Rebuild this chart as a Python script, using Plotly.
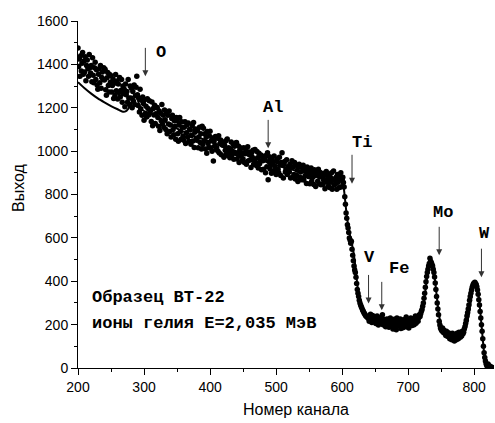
import plotly.graph_objects as go

# ---- measured spectrum: channels 200..599 (one value per channel) ----
counts_200_599 = [
    1475, 1390, 1425, 1345, 1440, 1370, 1405, 1455, 1355, 1415,
    1365, 1435, 1325, 1395, 1420, 1380, 1345, 1445, 1385, 1360,
    1395, 1320, 1430, 1350, 1315, 1385, 1410, 1330, 1375, 1305,
    1285, 1355, 1380, 1315, 1395, 1290, 1340, 1365, 1330, 1385,
    1328, 1378, 1283, 1258, 1338, 1363, 1303, 1273, 1353, 1318,
    1348, 1273, 1303, 1333, 1243, 1313, 1258, 1353, 1278, 1323,
    1240, 1310, 1270, 1340, 1250, 1280, 1330, 1225, 1300, 1265,
    1285, 1205, 1310, 1260, 1275, 1225, 1330, 1245, 1215, 1300,
    1245, 1290, 1200, 1275, 1230, 1305, 1215, 1255, 1295, 1345,
    1260, 1210, 1245, 1180, 1285, 1195, 1235, 1165, 1250, 1220,
    1142, 1237, 1172, 1207, 1157, 1242, 1197, 1167, 1232, 1182,
    1187, 1137, 1227, 1117, 1197, 1167, 1212, 1127, 1172, 1202,
    1200, 1155, 1115, 1185, 1095, 1175, 1140, 1215, 1125, 1165,
    1110, 1190, 1145, 1100, 1175, 1080, 1165, 1125, 1185, 1090,
    1120, 1065, 1150, 1165, 1100, 1075, 1140, 1115, 1055, 1155,
    1140, 1080, 1045, 1120, 1155, 1090, 1055, 1135, 1110, 1070,
    1050, 1110, 1135, 1035, 1085, 1120, 1065, 1130, 1045, 1100,
    1097, 1032, 1072, 1117, 1047, 1132, 1017, 1087, 1102, 1057,
    1050, 1095, 1015, 1065, 1110, 1040, 1080, 1010, 1115, 1030,
    1105, 1045, 1080, 1010, 1065, 990, 1090, 1035, 1015, 1070,
    1092, 1016, 1048, 1000, 1060, 955, 1044, 1024, 1068, 1008,
    1015, 1059, 999, 1071, 991, 1035, 1051, 983, 1043, 1027,
    1036, 972, 1028, 1004, 1048, 988, 1056, 980, 1016, 996,
    970, 1010, 1042, 982, 998, 1030, 962, 1022, 990, 1038,
    1040, 964, 984, 1024, 948, 1004, 1016, 976, 992, 956,
    964, 1016, 948, 988, 1008, 940, 996, 1020, 956, 984,
    996, 960, 924, 992, 972, 1004, 940, 956, 1008, 948,
    934, 998, 970, 922, 990, 942, 954, 982, 914, 974,
    956, 916, 976, 964, 900, 980, 928, 992, 868, 952,
    974, 918, 938, 898, 962, 950, 906, 978, 930, 914,
    892, 952, 964, 916, 900, 972, 936, 888, 948, 993,
    936, 876, 940, 952, 904, 916, 960, 892, 928, 908,
    904, 940, 876, 924, 956, 880, 928, 892, 948, 872,
    936, 888, 912, 860, 928, 940, 880, 904, 868, 924,
    875, 935, 867, 911, 887, 923, 851, 927, 899, 883,
    910, 850, 898, 922, 862, 878, 906, 846, 914, 886,
    837, 893, 909, 861, 917, 849, 881, 901, 845, 889,
    882, 846, 866, 898, 826, 890, 906, 858, 870, 838,
    892, 832, 880, 856, 900, 824, 872, 908, 844, 868,
    848, 880, 824, 892, 856, 884, 832, 872, 900, 836,
]
channels_200_599 = list(range(200, 600))

# ---- measured spectrum: channels 600..828 ----
channels_600_828 = list(range(600, 829))
counts_600_828 = [
    870, 880, 855, 835, 790, 755, 715, 690, 660, 645,
    625, 600, 590, 575, 585, 548, 520, 495, 470, 452,
    440, 418, 390, 362, 345, 330, 312, 300, 290, 282,
    276, 268, 262, 255, 250, 244, 240, 237, 235, 230,
    228, 215, 236, 248, 222, 210, 242, 225, 215, 238,
    232, 205, 210, 240, 226, 198, 205, 230, 232, 212,
    220, 245, 200, 225, 216, 195, 190, 220, 226, 200,
    210, 188, 196, 230, 222, 205, 200, 180, 185, 225,
    216, 195, 176, 230, 210, 200, 195, 215, 226, 182,
    200, 215, 186, 222, 216, 190, 205, 235, 190, 210,
    222, 185, 200, 218, 230, 205, 196, 225, 216, 200,
    225, 240, 206, 220, 238, 215, 232, 245, 238, 250,
    262, 270, 285, 300, 322, 345, 372, 398, 422, 440,
    455, 470, 482, 506, 492, 486, 478, 470, 455, 440,
    420, 392, 362, 330, 300, 272, 245, 215, 198, 185,
    178, 172, 185, 165, 175, 160, 168, 150, 170, 155,
    145, 162, 150, 135, 158, 145, 130, 160, 148, 140,
    125, 155, 142, 130, 160, 145, 135, 165, 150, 142,
    160, 148, 170, 158, 165, 180, 190, 205, 220, 240,
    255, 272, 290, 312, 330, 345, 360, 372, 382, 388,
    392, 395, 390, 385, 375, 360, 340, 315, 290, 260,
    230, 200, 170, 135, 100, 70, 48, 32, 20, 12,
    8, 18, 5, 10, 2, 6, 0, 3, 0,
]

# ---- simulated spectrum (solid curve) ----
fit_channels = [200, 210, 220, 230, 240, 250, 260, 268, 272, 276, 280, 284, 287,
                290, 293, 296, 300, 320, 340, 360, 380, 400, 420, 440, 460, 480,
                500, 520, 540, 560, 580, 590, 596, 600, 602, 604, 606, 609, 612,
                617, 620, 624, 628, 632, 636, 640, 650, 670, 690, 705, 712, 716,
                720, 724, 728, 731, 734, 737, 740, 743, 746, 749, 752, 756, 762,
                770, 778, 784, 788, 792, 795, 798, 801, 803, 805, 808, 811, 814,
                816, 818, 820]
fit_counts = [1318, 1290, 1265, 1243, 1225, 1208, 1193, 1182, 1183, 1195, 1215, 1240, 1252,
              1240, 1210, 1195, 1185, 1160, 1120, 1090, 1065, 1045, 1020, 1000, 978, 955,
              935, 918, 902, 887, 872, 868, 868, 860, 840, 790, 730, 660, 610,
              540, 470, 360, 300, 265, 245, 232, 222, 215, 210, 210, 215, 225,
              250, 310, 400, 460, 482, 470, 420, 340, 260, 210, 185, 168, 155,
              148, 152, 165, 190, 250, 310, 365, 392, 392, 370, 300, 200, 100,
              45, 10, 0]

# ---- element markers ----
elem_labels = ["O", "Al", "Ti", "V", "Fe", "Mo", "W"]
elem_channels = [302, 488, 615, 640, 660, 747, 811]
elem_tail = [1483, 1151, 990, 436, 404, 658, 557]
elem_tip = [1345, 1013, 850, 297, 266, 520, 419]
elem_label_x = [326, 495, 630, 642, 686, 753, 815]
elem_label_y = [1456, 1202, 1040, 510, 458, 718, 620]

sample_lines = ["Образец ВТ-22", "ионы гелия E=2,035 МэВ"]
sample_y = [326, 205]

W, H = 495, 423
L, R, T, B = 78, 1, 21, 55
pw, ph = W - L - R, H - T - B

fig = go.Figure()
fig.add_trace(go.Scatter(
    x=channels_200_599 + channels_600_828,
    y=counts_200_599 + counts_600_828,
    mode="markers",
    marker=dict(color="black", size=5.5),
    showlegend=False,
))
fig.add_trace(go.Scatter(
    x=fit_channels, y=fit_counts, mode="lines",
    line=dict(color="black", width=2, shape="spline", smoothing=0.6),
    showlegend=False,
))

mono = dict(family="Liberation Mono, Courier New, monospace", size=17, color="black")
sans = dict(family="Liberation Sans, Arial, sans-serif", color="black")

annotations = []
for lab, cx, t0, t1, lx, ly in zip(elem_labels, elem_channels, elem_tail, elem_tip,
                                   elem_label_x, elem_label_y):
    annotations.append(dict(x=cx, y=t1, ax=cx, ay=t0, xref="x", yref="y",
                            axref="x", ayref="y", showarrow=True, arrowhead=2,
                            arrowsize=1.2, arrowwidth=1, arrowcolor="#333333", text=""))
    annotations.append(dict(x=lx, y=ly, xref="x", yref="y", text="<b>%s</b>" % lab,
                            showarrow=False, font=mono))
for line, yy in zip(sample_lines, sample_y):
    annotations.append(dict(x=218, y=yy, xref="x", yref="y", text="<b>%s</b>" % line,
                            showarrow=False, xanchor="left", font=mono))

annotations.append(dict(x=(296 - L) / pw, y=(H - B - 410) / ph, xref="paper", yref="paper",
                        xanchor="center", yanchor="middle", text="Номер канала",
                        showarrow=False, font=dict(size=16, **sans)))
annotations.append(dict(x=(18 - L) / pw, y=(H - B - 188) / ph, xref="paper", yref="paper",
                        xanchor="center", yanchor="middle", text="Выход", textangle=-90,
                        showarrow=False, font=dict(size=16, **sans)))

fig.update_layout(
    width=W, height=H,
    margin=dict(l=L, r=R, t=T, b=B),
    plot_bgcolor="white", paper_bgcolor="white",
    annotations=annotations,
    xaxis=dict(range=[200, 830], tickmode="linear", tick0=200, dtick=100,
               ticks="outside", ticklen=6, tickwidth=1, tickcolor="black",
               minor=dict(dtick=50, ticks="outside", ticklen=3, tickcolor="black"),
               showline=True, linecolor="black", linewidth=1, showgrid=False,
               zeroline=False, tickfont=dict(size=14, **sans)),
    yaxis=dict(range=[0, 1600], tickmode="linear", tick0=0, dtick=200,
               ticks="outside", ticklen=6, tickwidth=1, tickcolor="black",
               minor=dict(dtick=100, ticks="outside", ticklen=3, tickcolor="black"),
               showline=True, linecolor="black", linewidth=1, showgrid=False,
               zeroline=False, tickfont=dict(size=14, **sans)),
)
fig.write_html("out.html", config={"displayModeBar": False},
               post_script="document.body.style.margin='0px';")
